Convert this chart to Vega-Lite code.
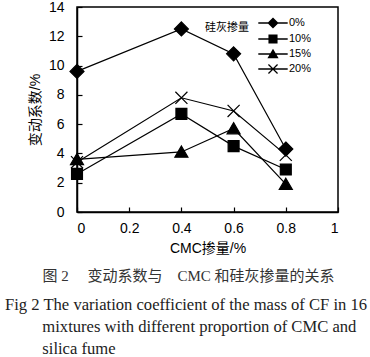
{
  "$schema": "https://vega.github.io/schema/vega-lite/v6.json",
  "width": 261,
  "height": 205,
  "autosize": {"type": "none"},
  "padding": {"left": 77, "top": 7, "right": 32, "bottom": 145},
  "background": "white",
  "data": {
    "values": [
      {"cmc": 0, "sf": "0%", "cv": 9.6},
      {"cmc": 0.4, "sf": "0%", "cv": 12.5},
      {"cmc": 0.6, "sf": "0%", "cv": 10.8},
      {"cmc": 0.8, "sf": "0%", "cv": 4.3},
      {"cmc": 0, "sf": "10%", "cv": 2.6},
      {"cmc": 0.4, "sf": "10%", "cv": 6.7},
      {"cmc": 0.6, "sf": "10%", "cv": 4.5},
      {"cmc": 0.8, "sf": "10%", "cv": 2.9},
      {"cmc": 0, "sf": "15%", "cv": 3.6},
      {"cmc": 0.4, "sf": "15%", "cv": 4.1},
      {"cmc": 0.6, "sf": "15%", "cv": 5.7},
      {"cmc": 0.8, "sf": "15%", "cv": 1.9},
      {"cmc": 0, "sf": "20%", "cv": 3.4},
      {"cmc": 0.4, "sf": "20%", "cv": 7.8},
      {"cmc": 0.6, "sf": "20%", "cv": 6.9},
      {"cmc": 0.8, "sf": "20%", "cv": 3.9}
    ]
  },
  "title": {
    "text": "\u200b\u3000\u3000\u00a0 图 2\u3000 变动系数与\u3000CMC 和硅灰掺量的关系",
    "subtitle": [
      "Fig 2 The variation coefficient of the mass of CF in 16",
      "\u200b\u00a0\u00a0\u00a0\u00a0\u00a0\u00a0\u00a0\u00a0\u00a0mixtures with different proportion of CMC and",
      "\u200b\u00a0\u00a0\u00a0\u00a0\u00a0\u00a0\u00a0\u00a0\u00a0silica fume"
    ],
    "orient": "bottom",
    "anchor": "start",
    "frame": "group",
    "dx": -72,
    "offset": 14,
    "font": "Liberation Serif, Noto Sans CJK SC",
    "fontSize": 15,
    "fontWeight": "normal",
    "color": "#333",
    "subtitleFont": "Liberation Serif",
    "subtitleFontSize": 16.6,
    "subtitleColor": "#222",
    "subtitleLineHeight": 22,
    "subtitlePadding": 13
  },
  "encoding": {
    "x": {
      "field": "cmc",
      "type": "quantitative",
      "scale": {"domain": [0, 1]},
      "axis": {"title": "CMC掺量/%", "values": [0, 0.2, 0.4, 0.6, 0.8, 1], "format": "~g"}
    },
    "y": {
      "field": "cv",
      "type": "quantitative",
      "scale": {"domain": [0, 14]},
      "axis": {"title": "变动系数/%", "values": [0, 2, 4, 6, 8, 10, 12, 14], "labelOverlap": false}
    }
  },
  "layer": [
    {
      "mark": {"type": "line", "color": "black", "strokeWidth": 1.2},
      "encoding": {
        "detail": {"field": "sf"}
      }
    },
    {
      "mark": {"type": "point", "filled": true, "fill": "black", "stroke": "black", "strokeWidth": 1.2, "opacity": 1, "size": 196},
      "encoding": {
        "shape": {
          "field": "sf",
          "type": "nominal",
          "scale": {
            "domain": ["0%", "10%", "15%", "20%"],
            "range": [
              "M0,-1L1,0L0,1L-1,0Z",
              "M-0.78,-0.78H0.78V0.78H-0.78Z",
              "M0,-0.85L0.93,0.75L-0.93,0.75Z",
              "M-0.86,-0.86L0.86,0.86M-0.86,0.86L0.86,-0.86"
            ]
          },
          "legend": null
        }
      }
    },
    {
      "mark": {"type": "point", "filled": false, "fill": "black", "stroke": "black", "strokeWidth": 1.2, "opacity": 1, "size": 0},
      "encoding": {
        "shape": {
          "field": "sf",
          "type": "nominal",
          "scale": {
            "domain": ["0%", "10%", "15%", "20%"],
            "range": [
              "M-2.1,-0.09H2.1V0.09H-2.1ZM0,-0.8L0.8,0L0,0.8L-0.8,0Z",
              "M-2.1,-0.09H2.1V0.09H-2.1ZM-0.65,-0.65H0.65V0.65H-0.65Z",
              "M-2.1,-0.09H2.1V0.09H-2.1ZM0,-0.75L0.8,0.6L-0.8,0.6Z",
              "M-2.1,-0.09H2.1V0.09H-2.1ZM-0.586,-0.714L0.714,0.586L0.586,0.714L-0.714,-0.586ZM-0.714,0.586L0.586,-0.714L0.714,-0.586L-0.586,0.714Z"
            ]
          },
          "legend": {
            "title": ["\u200b", "硅灰掺量"],
            "orient": "none",
            "legendX": 128,
            "legendY": 8,
            "titleOrient": "left",
            "titleAnchor": "start",
            "titleBaseline": "top",
            "titleLineHeight": 7,
            "titlePadding": 16,
            "symbolSize": 196,
            "symbolFillColor": "black",
            "symbolStrokeColor": "black",
            "symbolStrokeWidth": 1.2,
            "rowPadding": 0,
            "labelOffset": 8,
            "labelColor": "black"
          }
        }
      }
    }
  ],
  "resolve": {"scale": {"shape": "independent"}, "legend": {"shape": "independent"}},
  "config": {
    "view": {"stroke": "black", "strokeWidth": 1.5},
    "font": "Liberation Sans",
    "axis": {
      "grid": false,
      "domainColor": "black",
      "domainWidth": 1.5,
      "tickColor": "black",
      "tickWidth": 1.2,
      "tickSize": -5,
      "labelColor": "black",
      "labelFontSize": 14,
      "labelFont": "Liberation Sans",
      "titleFont": "Liberation Sans, Noto Sans CJK SC",
      "titleFontSize": 14,
      "titleFontWeight": "normal",
      "titleColor": "black"
    },
    "axisX": {"labelPadding": 14, "titlePadding": 6},
    "axisY": {"labelPadding": 18, "titlePadding": 6},
    "legend": {
      "labelFont": "Liberation Sans",
      "labelFontSize": 11,
      "labelColor": "black",
      "titleFont": "Noto Sans CJK SC",
      "titleFontSize": 11,
      "titleFontWeight": "normal",
      "titleColor": "black"
    }
  }
}
